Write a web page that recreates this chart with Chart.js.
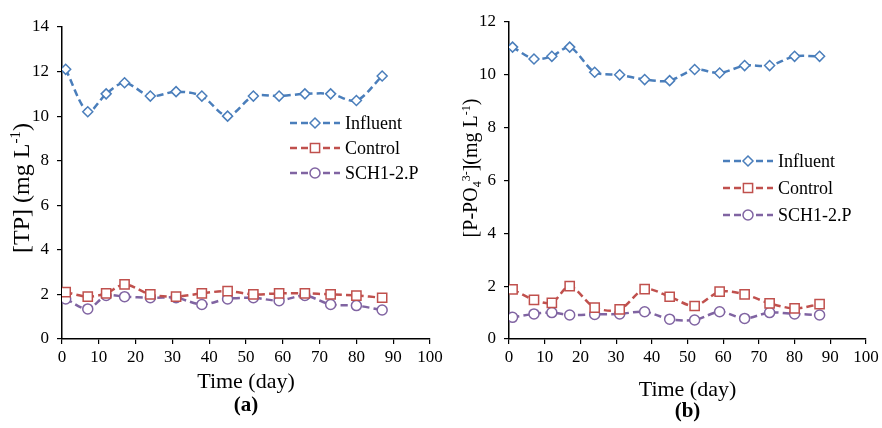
<!DOCTYPE html>
<html>
<head>
<meta charset="utf-8">
<script src="https://cdn.jsdelivr.net/npm/chart.js@4.4.6/dist/chart.umd.min.js"></script>
<style>
  body { margin: 0; background: #fff; }
  #wrap { position: relative; width: 882px; height: 428px; overflow: hidden; }
  .panel { position: absolute; top: 0; height: 428px; }
</style>
</head>
<body>
<div id="wrap">
  <div class="panel" style="left:0;width:460px"><canvas id="chartA" width="460" height="428"></canvas></div>
  <div class="panel" style="left:441px;width:441px"><canvas id="chartB" width="441" height="428"></canvas></div>
</div>
<script>
  const days = [1, 7, 12, 17, 24, 31, 38, 45, 52, 59, 66, 73, 80, 87];
  const seriesNames = ["Influent", "Control", "SCH1-2.P"];

  const tpInfluent = [12.1, 10.2, 11.0, 11.5, 10.9, 11.1, 10.9, 10.0, 10.9, 10.9, 11.0, 11.0, 10.7, 11.8];
  const tpControl = [2.1, 1.9, 2.05, 2.45, 2.0, 1.9, 2.05, 2.15, 2.0, 2.05, 2.05, 2.0, 1.95, 1.85];
  const tpSch = [1.8, 1.35, 1.95, 1.9, 1.85, 1.85, 1.55, 1.8, 1.85, 1.72, 1.95, 1.55, 1.5, 1.3];

  const poInfluent = [11.05, 10.6, 10.7, 11.05, 10.1, 10.0, 9.82, 9.78, 10.2, 10.07, 10.35, 10.35, 10.7, 10.7];
  const poControl = [1.88, 1.48, 1.37, 2.0, 1.19, 1.12, 1.89, 1.6, 1.25, 1.79, 1.69, 1.35, 1.16, 1.32];
  const poSch = [0.82, 0.95, 1.0, 0.91, 0.93, 0.95, 1.03, 0.75, 0.72, 1.03, 0.78, 1.0, 0.95, 0.91];

  // y titles as [text, kind] runs so the super/subscripts can be drawn smaller
  const tpTitle = [["[TP] (mg L", ""], ["-1", "sup"], [")", ""]];
  const poTitle = [["[P-PO", ""], ["4", "sub"], ["3-", "sup"], ["](mg L", ""], ["-1", "sup"], [")", ""]];

  const colors = ["#4a7ebb", "#c0504d", "#8064a2"];
  const shapes = ["rectRot", "rect", "circle"];
  const radii = [5, 6.5, 5];
  const serif = "'Liberation Serif', 'Times New Roman', serif";

  function makeDatasets(lists) {
    return lists.map((vals, i) => ({
      label: seriesNames[i],
      data: days.map((d, j) => ({ x: d, y: vals[j] })),
      borderColor: colors[i],
      backgroundColor: "#fff",
      borderWidth: 2.5,
      borderDash: [7, 4],
      pointStyle: shapes[i],
      pointRadius: radii[i],
      pointBorderWidth: 1.5,
      pointBackgroundColor: "#fff",
      pointBorderColor: colors[i],
      tension: 0.3
    }));
  }

  function drawMarker(ctx, shape, x, y, r) {
    ctx.beginPath();
    if (shape === "rectRot") {
      ctx.moveTo(x, y - r); ctx.lineTo(x + r, y); ctx.lineTo(x, y + r); ctx.lineTo(x - r, y); ctx.closePath();
    } else if (shape === "rect") {
      const s = r * Math.SQRT1_2;
      ctx.rect(x - s, y - s, 2 * s, 2 * s);
    } else {
      ctx.arc(x, y, r, 0, Math.PI * 2);
    }
    ctx.fill();
    ctx.stroke();
  }

  function drawRuns(ctx, runs, cx, cy, size) {
    const big = size + "px " + serif, small = Math.round(size * 0.62) + "px " + serif;
    let total = 0;
    runs.forEach(([t, k]) => { ctx.font = k ? small : big; total += ctx.measureText(t).width; });
    ctx.save();
    ctx.translate(cx, cy);
    ctx.rotate(-Math.PI / 2);
    ctx.textBaseline = "alphabetic";
    ctx.textAlign = "left";
    ctx.fillStyle = "#000";
    let x = -total / 2;
    runs.forEach(([t, k]) => {
      ctx.font = k ? small : big;
      const dy = k === "sup" ? -size * 0.38 : k === "sub" ? size * 0.18 : 0;
      ctx.fillText(t, x, size * 0.32 + dy);
      x += ctx.measureText(t).width;
    });
    ctx.restore();
  }

  // legend with dashed line + marker, y title and panel label
  const extras = {
    id: "extras",
    afterDraw(chart, args, opts) {
      const ctx = chart.ctx;
      ctx.save();
      chart.data.datasets.forEach((ds, i) => {
        const y = opts.legendY + i * opts.legendGap;
        ctx.setLineDash([7, 4]);
        ctx.lineWidth = 2.5;
        ctx.strokeStyle = ds.borderColor;
        ctx.beginPath();
        ctx.moveTo(opts.legendX, y);
        ctx.lineTo(opts.legendX + 50, y);
        ctx.stroke();
        ctx.setLineDash([]);
        ctx.lineWidth = 1.5;
        ctx.fillStyle = "#fff";
        drawMarker(ctx, ds.pointStyle, opts.legendX + 25, y, ds.pointRadius);
        ctx.fillStyle = "#000";
        ctx.font = "18px " + serif;
        ctx.textBaseline = "middle";
        ctx.textAlign = "left";
        ctx.fillText(ds.label, opts.legendX + 55, y + 1);
      });
      drawRuns(ctx, opts.yTitle, opts.yTitleX, opts.yTitleY, opts.yTitleSize);
      const a = chart.chartArea;
      ctx.font = "bold 21px " + serif;
      ctx.textAlign = "center";
      ctx.textBaseline = "middle";
      ctx.fillStyle = "#000";
      ctx.fillText(opts.panel, (a.left + a.right) / 2, opts.panelY);
      ctx.restore();
    }
  };

  function build(id, lists, yMax, pad, yWidth, xTitlePad, extra) {
    return new Chart(document.getElementById(id), {
      type: "line",
      data: { datasets: makeDatasets(lists) },
      plugins: [extras],
      options: {
        responsive: false,
        animation: false,
        layout: { autoPadding: false, padding: pad },
        plugins: {
          legend: { display: false },
          tooltip: { enabled: false },
          extras: extra
        },
        scales: {
          x: {
            type: "linear", min: 0, max: 100,
            ticks: { stepSize: 10, color: "#000", padding: 3, font: { family: serif, size: 17 } },
            grid: { drawOnChartArea: false, tickLength: 5, color: "#000", lineWidth: 1.2 },
            border: { color: "#000", width: 1.5 },
            title: { display: true, text: "Time (day)", color: "#000", font: { family: serif, size: 22 }, padding: { top: 0, bottom: xTitlePad } },
            afterFit: s => { s.height = 428 - 339 - pad.bottom; s.paddingLeft = 0; s.paddingRight = 0; }
          },
          y: {
            min: 0, max: yMax,
            ticks: { stepSize: 2, color: "#000", padding: 8, font: { family: serif, size: 17 } },
            grid: { drawOnChartArea: false, tickLength: 5, color: "#000", lineWidth: 1.2 },
            border: { color: "#000", width: 1.5 },
            afterFit: s => { s.width = yWidth; s.paddingTop = 0; s.paddingBottom = 0; }
          }
        }
      }
    });
  }

  build("chartA", [tpInfluent, tpControl, tpSch], 14,
    { top: 27, right: 30, bottom: 0, left: 0 }, 62, 33,
    { legendX: 290, legendY: 123, legendGap: 25, panel: "(a)", panelY: 406,
      yTitle: tpTitle, yTitleX: 21, yTitleY: 188, yTitleSize: 24 });

  build("chartB", [poInfluent, poControl, poSch], 12,
    { top: 22, right: 16, bottom: 0, left: 0 }, 68, 25,
    { legendX: 282, legendY: 161, legendGap: 27, panel: "(b)", panelY: 412,
      yTitle: poTitle, yTitleX: 30, yTitleY: 168, yTitleSize: 20 });
</script>
</body>
</html>
